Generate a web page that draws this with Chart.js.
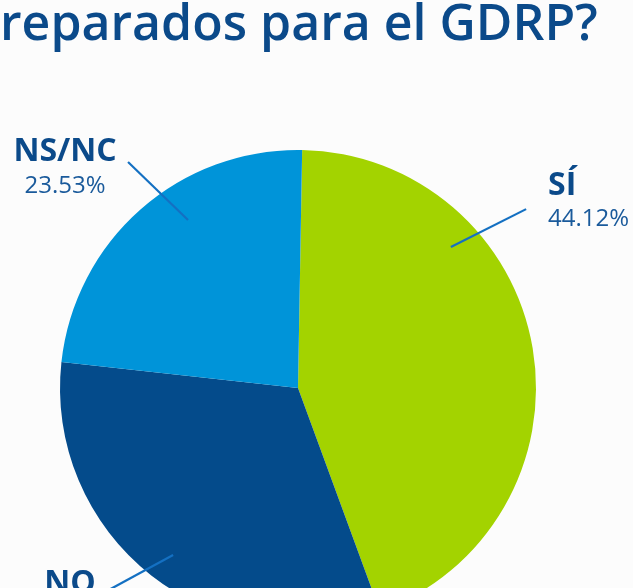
<!DOCTYPE html>
<html>
<head>
<meta charset="utf-8">
<script src="https://cdn.jsdelivr.net/npm/chart.js@4/dist/chart.umd.min.js"></script>
<style>
  html, body { margin: 0; padding: 0; background: #fcfcfc; overflow: hidden; }
  #wrap { position: absolute; left: 0; top: 0; width: 633px; height: 660px; }
</style>
</head>
<body>
<div id="wrap"><canvas id="graficoGdpr"></canvas></div>
<script>
// ── Datos ──────────────────────────────────────────────
var categorias = ['SÍ', 'NO', 'NS/NC'];
var porcentajes = [44.12, 32.35, 23.53];
var titulo = 'reparados para el GDRP?';

// ── Paleta ─────────────────────────────────────────────
var VERDE      = '#a3d300';
var AZUL_OSC   = '#044b8b';
var AZUL_CLARO = '#0094d9';
var AZUL_LINEA = '#1470c2';
var TEXTO      = '#0b4a8a';
var TEXTO_PCT  = '#1a5a9b';

// posicion de las etiquetas (grados desde arriba, sentido horario; radios relativos)
var etiquetas = [
  { angIn: 47.3,  rIn: 0.874, angOut: 51.9,  rOut: 1.218, align: 'left',   dx: 22,  dyNom: -14, dyPct: 17 },
  { angIn: 216.8, rIn: 0.876, angOut: 223.4, rOut: 1.18,  align: 'center', dx: -35, dyNom: 1,   dyPct: 33 },
  { angIn: 326.8, rIn: 0.844, angOut: 323.05, rOut: 1.188, align: 'center', dx: -63, dyNom: -1, dyPct: 31 }
];

function punto(arc, grados, r) {
  var a = (grados - 90) * Math.PI / 180;
  return { x: arc.x + Math.cos(a) * arc.outerRadius * r, y: arc.y + Math.sin(a) * arc.outerRadius * r };
}

var pluginEtiquetas = {
  id: 'etiquetas',
  afterDatasetsDraw: function(chart) {
    var ctx = chart.ctx;
    var arcs = chart.getDatasetMeta(0).data;
    ctx.save();
    arcs.forEach(function(arc, i) {
      var e = etiquetas[i];
      var p1 = punto(arc, e.angIn, e.rIn);
      var p2 = punto(arc, e.angOut, e.rOut);
      ctx.strokeStyle = AZUL_LINEA;
      ctx.lineWidth = 2.2;
      ctx.beginPath();
      ctx.moveTo(p1.x, p1.y);
      ctx.lineTo(p2.x, p2.y);
      ctx.stroke();

      ctx.textAlign = e.align;
      ctx.textBaseline = 'alphabetic';
      ctx.fillStyle = TEXTO;
      ctx.font = "bold 32px 'Open Sans'";
      ctx.fillText(categorias[i], p2.x + e.dx, p2.y + e.dyNom);
      ctx.fillStyle = TEXTO_PCT;
      ctx.font = "24px 'Open Sans'";
      ctx.fillText(porcentajes[i].toFixed(2) + '%', p2.x + e.dx, p2.y + e.dyPct);
    });
    ctx.restore();
  }
};

var pluginTitulo = {
  id: 'titulo',
  afterDraw: function(chart) {
    var ctx = chart.ctx;
    ctx.save();
    ctx.fillStyle = TEXTO;
    ctx.font = "600 50px 'Open Sans'";
    ctx.textAlign = 'left';
    ctx.textBaseline = 'alphabetic';
    ctx.fillText(titulo, 0, 40);
    ctx.restore();
  }
};

new Chart(document.getElementById('graficoGdpr'), {
  type: 'pie',
  data: {
    labels: categorias,
    datasets: [{
      data: porcentajes,
      backgroundColor: [VERDE, AZUL_OSC, AZUL_CLARO],
      borderWidth: 0
    }]
  },
  options: {
    responsive: true,
    maintainAspectRatio: false,
    animation: false,
    rotation: 1,
    layout: { padding: { left: 60, right: 97, top: 150, bottom: 34 } },
    plugins: {
      legend: { display: false },
      tooltip: { enabled: false }
    }
  },
  plugins: [pluginEtiquetas, pluginTitulo]
});
</script>
</body>
</html>
